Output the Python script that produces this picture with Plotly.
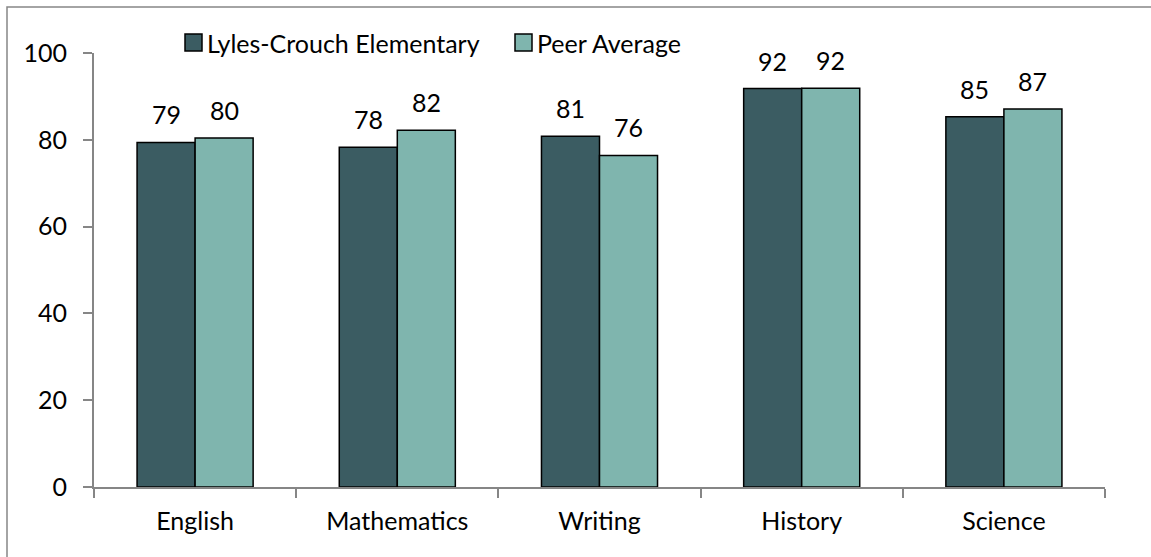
import plotly.graph_objects as go

subjects = ['English', 'Mathematics', 'Writing', 'History', 'Science']
school_name = 'Lyles-Crouch Elementary'
peer_name = 'Peer Average'
school_scores = [79.4, 78.3, 80.8, 91.8, 85.3]
peer_scores = [80.4, 82.2, 76.4, 91.9, 87.1]

dark_color = '#3b5c62'
light_color = '#7fb5ae'
axis_color = '#868686'
font_name = 'Lato'
font_size = 25

W, H = 1151, 557
plot_left = 94
plot_top = 53
plot_w = 1011
plot_h = 434


def px_x(px):
    return (px - plot_left) / plot_w


def px_y(py):
    return (plot_top + plot_h - py) / plot_h


fig = go.Figure()

fig.add_trace(go.Bar(x=subjects, y=school_scores, name=school_name,
                     marker=dict(color=dark_color, line=dict(color='black', width=1.5)),
                     hoverinfo='none', showlegend=False))
fig.add_trace(go.Bar(x=subjects, y=peer_scores, name=peer_name,
                     marker=dict(color=light_color, line=dict(color='black', width=1.5)),
                     hoverinfo='none', showlegend=False))

# data labels above each bar
for scores, shift in [(school_scores, -29), (peer_scores, 29)]:
    for s, v in zip(subjects, scores):
        fig.add_annotation(x=s, y=v, text=f'{v:.0f}', showarrow=False,
                           xshift=shift, yshift=28, yanchor='middle',
                           font=dict(family=font_name, size=font_size, color='black'))

# legend drawn by hand (Excel style square keys)
for name, color, x0 in [(school_name, dark_color, 185), (peer_name, light_color, 515)]:
    fig.add_shape(type='rect', xref='paper', yref='paper',
                  x0=px_x(x0), x1=px_x(x0 + 17), y0=px_y(51), y1=px_y(34),
                  fillcolor=color, line=dict(color='black', width=1.5))
    fig.add_annotation(xref='paper', yref='paper', x=px_x(x0 + 20), y=px_y(42.5),
                       text=name, showarrow=False, xanchor='left', yanchor='middle',
                       font=dict(family=font_name, size=font_size, color='black'))

# outer chart border (right/bottom run off the image)
fig.add_shape(type='rect', xref='paper', yref='paper',
              x0=px_x(7), x1=px_x(W + 20), y0=px_y(H + 20), y1=px_y(7),
              line=dict(color=axis_color, width=1.5), layer='below')

fig.update_xaxes(
    showgrid=False, zeroline=False,
    showline=True, linecolor=axis_color, linewidth=2,
    ticks='outside', tickson='boundaries', ticklen=9, tickcolor=axis_color, tickwidth=2,
    ticklabelstandoff=11,
    tickfont=dict(family=font_name, size=font_size, color='black'),
    fixedrange=True
)
fig.update_yaxes(
    range=[0, 100], dtick=20,
    showgrid=False, zeroline=False,
    showline=True, linecolor=axis_color, linewidth=2,
    ticks='outside', ticklen=9, tickcolor=axis_color, tickwidth=2,
    ticklabelstandoff=11,
    tickfont=dict(family=font_name, size=font_size, color='black'),
    fixedrange=True
)

fig.update_layout(
    width=W, height=H,
    margin=dict(l=plot_left, r=W - plot_left - plot_w, t=plot_top, b=H - plot_top - plot_h,
                autoexpand=False),
    paper_bgcolor='white',
    plot_bgcolor='white',
    barmode='group',
    bargap=0.426,
    bargroupgap=0,
    font_family=font_name,
    font_color='black',
    showlegend=False,
)

fig.write_html("out.html", config={'displayModeBar': False},
               post_script="document.body.style.margin='0px';")
